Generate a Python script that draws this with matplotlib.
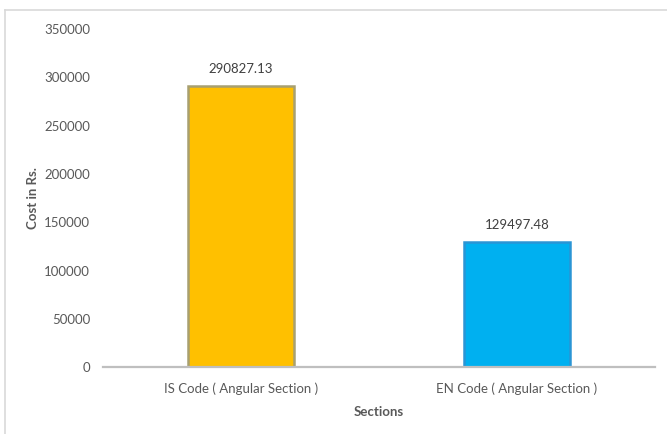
import matplotlib
matplotlib.use("Agg")
import matplotlib.pyplot as plt
from matplotlib.lines import Line2D

categories = ["IS Code ( Angular Section )", "EN Code ( Angular Section )"]
costs = [290827.13, 129497.48]
value_labels = ["290827.13", "129497.48"]
y_ticks = [0, 50000, 100000, 150000, 200000, 250000, 300000, 350000]

bar_colors = ["#FFC000", "#00B0F0"]
edge_colors = ["#A8A070", "#2A95D5"]
text_color = "#595959"

plt.rcParams["font.family"] = ["Lato", "DejaVu Sans"]

fig = plt.figure(figsize=(6.67, 4.34), dpi=100)
ax = fig.add_axes([0.154, 0.154, 0.828, 0.779])

x = list(range(len(categories)))
ax.bar(x, costs, width=0.385, color=bar_colors,
       edgecolor=edge_colors, linewidth=1.8, zorder=3)

for xi, v, lab in zip(x, costs, value_labels):
    ax.annotate(lab, (xi, v), xytext=(0, 8), textcoords="offset points",
                ha="center", va="bottom", fontsize=9.5, color="#404040")

ax.set_xlim(-0.5, 1.5)
ax.set_ylim(0, 350000)
ax.set_yticks(y_ticks)
ax.set_yticklabels([str(t) for t in y_ticks])
ax.set_xticks(x)
ax.set_xticklabels(categories)
ax.tick_params(axis="both", length=0, labelsize=9.5, colors=text_color)
ax.tick_params(axis="y", pad=9)
ax.tick_params(axis="x", pad=11)

for side in ["top", "right", "left"]:
    ax.spines[side].set_visible(False)
ax.spines["bottom"].set_color("#BFBFBF")
ax.spines["bottom"].set_linewidth(1.6)
ax.spines["bottom"].set_zorder(4)

ax.set_xlabel("Sections", fontsize=9.5, fontweight="bold", color=text_color, labelpad=8)
ax.set_ylabel("Cost in Rs.", fontsize=9.5, fontweight="bold", color=text_color, labelpad=4)

# chart frame
fig.add_artist(Line2D([5 / 667, 1.0], [1 - 10 / 434, 1 - 10 / 434],
                      transform=fig.transFigure, color="#D9D9D9", lw=1.2))
fig.add_artist(Line2D([5 / 667, 5 / 667], [0, 1 - 10 / 434],
                      transform=fig.transFigure, color="#D9D9D9", lw=1.2))

fig.savefig("out.png", dpi=100, facecolor="white")
